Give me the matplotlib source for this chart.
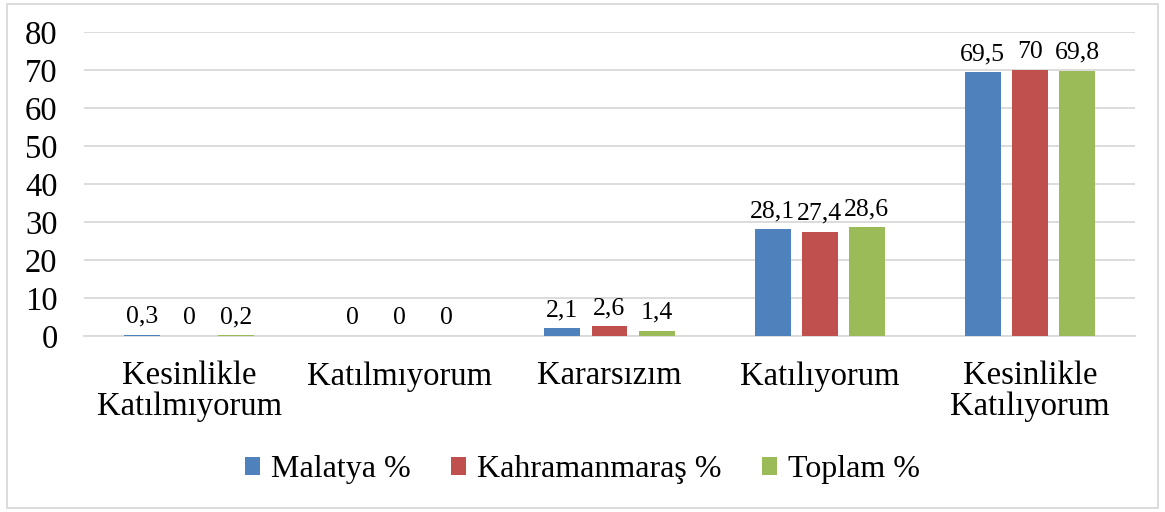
import matplotlib.pyplot as plt
import matplotlib.patches as patches
import numpy as np

plt.rcParams['font.family'] = ['Liberation Serif', 'DejaVu Serif']

# data
categories = ['Kesinlikle\nKatılmıyorum', 'Katılmıyorum', 'Kararsızım', 'Katılıyorum', 'Kesinlikle\nKatılıyorum']
series_names = ['Malatya %', 'Kahramanmaraş %', 'Toplam %']
malatya = [0.3, 0, 2.1, 28.1, 69.5]
kahramanmaras = [0, 0, 2.6, 27.4, 70]
toplam = [0.2, 0, 1.4, 28.6, 69.8]
colors = ['#4F81BD', '#C0504D', '#9BBB59']

fig = plt.figure(figsize=(11.65, 5.12), dpi=100)
ax = fig.add_axes([84/1165, 1-336/512, (1135-84)/1165, (336-32)/512])

x = np.arange(len(categories))
width = 0.171
step = 0.224
for i, (vals, name) in enumerate(zip([malatya, kahramanmaras, toplam], series_names)):
    pos = x + (i - 1) * step
    bars = ax.bar(pos, vals, width, color=colors[i], label=name, zorder=3)
    for p, v in zip(pos, vals):
        txt = ('%g' % v).replace('.', ',')
        ax.annotate(txt, (p, v), xytext=(0, 5), textcoords='offset points',
                    ha='center', va='bottom', fontsize=18.5)

ax.set_xlim(-0.5, len(categories) - 0.5)
ax.set_ylim(0, 80)
ax.set_yticks(range(0, 81, 10))
ax.yaxis.grid(True, color='#d9d9d9', linewidth=1.3, zorder=0)
ax.set_axisbelow(True)
for s in ['top', 'right', 'left']:
    ax.spines[s].set_visible(False)
ax.spines['bottom'].set_color('#d9d9d9')
ax.spines['bottom'].set_linewidth(1.3)
ax.tick_params(axis='both', length=0, labelsize=23.5)
ax.tick_params(axis='y', pad=19)
ax.tick_params(axis='x', pad=18)
ax.set_xticks(x)
ax.set_xticklabels(categories, linespacing=1.0)

fig.legend(loc='center', bbox_to_anchor=(0.5, 1-470/512), ncol=3, frameon=False,
           fontsize=23, handlelength=0.48, handleheight=0.48, handletextpad=0.35,
           columnspacing=1.25)

fig.patches.append(patches.Rectangle((7/1165, 4/512), 1151/1165, 504/512,
                                     transform=fig.transFigure, fill=False,
                                     edgecolor='#d9d9d9', linewidth=1.3))

fig.savefig('out.png', dpi=100)
